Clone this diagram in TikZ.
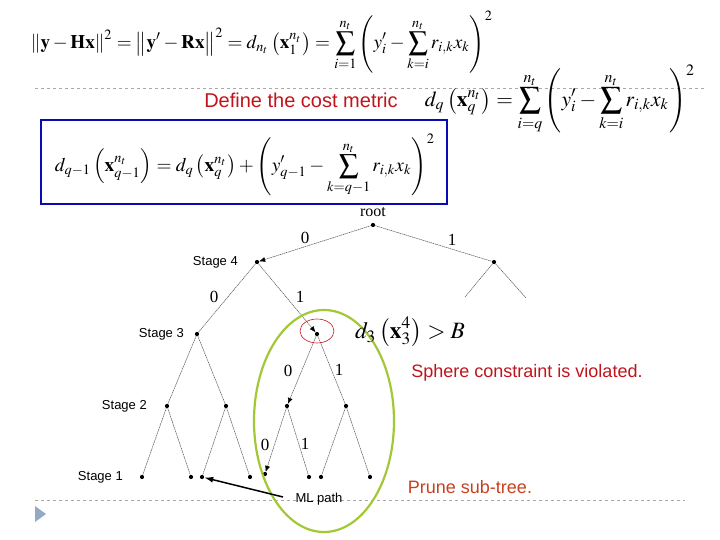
\documentclass[tikz,border=0pt]{standalone}
\usepackage{mathptmx}
\usepackage{fontspec}
\setmainfont{Liberation Serif}
\setsansfont{Liberation Sans}
\usepackage{graphicx}
\usetikzlibrary{arrows.meta,positioning,shapes.geometric}
\definecolor{alertred}{HTML}{C0141C}
\definecolor{prunered}{HTML}{C8401E}
\definecolor{boxblue}{HTML}{0A0AB4}
\definecolor{zonegreen}{HTML}{A2C836}
\definecolor{sepgrey}{HTML}{A8A8A8}
\definecolor{bulletblue}{HTML}{94A9C4}
\definecolor{branchgrey}{HTML}{505050}
\newcommand{\fitw}[2]{\resizebox{#1}{!}{$\displaystyle #2$}}
\tikzset{
  treedot/.style={circle,fill=black,inner sep=0pt,minimum size=4.2pt},
  branch/.style={draw=branchgrey,line width=0.5pt,dash pattern=on 1.4pt off 0.6pt},
  searchbranch/.style={branch,-{Latex[length=6pt,width=5pt,black]}},
  stagelabel/.style={font=\sffamily\fontsize{13}{15}\selectfont,anchor=east,inner sep=0pt},
  bitlabel/.style={font=\fontsize{17}{19}\selectfont,inner sep=0pt},
  redtext/.style={font=\sffamily\fontsize{18}{21}\selectfont,text=alertred,inner sep=0pt},
  eqn/.style={inner sep=0pt},
  costbox/.style={draw=boxblue,line width=2.6pt,minimum width=406pt,minimum height=84pt,inner sep=0pt},
  mlarrow/.style={-{Latex[length=9pt,width=6pt]},line width=1.5pt},
  separator/.style={draw=sepgrey,dashed,line width=0.6pt}
}

\begin{document}
\begin{tikzpicture}[x=1pt,y=-1pt]
  \useasboundingbox (0,0) rectangle (720,540);

  % separators and bullet
  \draw[separator] (35,88) -- (705,88);
  \draw[separator] (35,500) -- (685,500);
  \fill[bulletblue] (35,506) -- (46,514) -- (35,522) -- cycle;

  % cost metric
  \node[eqn] (fulleq) at (262,42) {\fitw{462pt}{\left\|\mathbf{y}-\mathbf{H}\mathbf{x}\right\|^2=\left\|\mathbf{y}'-\mathbf{R}\mathbf{x}\right\|^2=d_{n_t}\left(\mathbf{x}_1^{n_t}\right)=\sum_{i=1}^{n_t}\left(y_i'-\sum_{k=i}^{n_t}r_{i,k}x_k\right)^2}};
  \node[redtext,font=\sffamily\fontsize{20}{23}\selectfont] (define) at (301,100) {Define the cost metric};
  \node[eqn] (parteq) at (560,99) {\fitw{270pt}{d_q\left(\mathbf{x}_q^{n_t}\right)=\sum_{i=q}^{n_t}\left(y_i'-\sum_{k=i}^{n_t}r_{i,k}x_k\right)^2}};
  \node[costbox] (box) at (244,162) {};
  \node[eqn] (receq) at (245,165) {\fitw{380pt}{d_{q-1}\left(\mathbf{x}_{q-1}^{n_t}\right)=d_q\left(\mathbf{x}_q^{n_t}\right)+\left(y_{q-1}'-\sum_{k=q-1}^{n_t}r_{i,k}x_k\right)^2}};

  % tree nodes
  \node[treedot] (root) at (373,225) {};
  \node[treedot] (s4a) at (257,262) {};
  \node[treedot] (s4b) at (494,262) {};
  \node[treedot] (s3a) at (197,334) {};
  \node[treedot] (s3b) at (317,334) {};
  \node[treedot] (s2a) at (167,406) {};
  \node[treedot] (s2b) at (226,406) {};
  \node[treedot] (s2c) at (287,406) {};
  \node[treedot] (s2d) at (346,406) {};
  \node[treedot] (s1a) at (142,477) {};
  \node[treedot] (s1b) at (191,477) {};
  \node[treedot] (s1c) at (202,477) {};
  \node[treedot] (s1d) at (250,477) {};
  \node[treedot] (s1e) at (265,474) {};
  \node[treedot] (s1f) at (309,477) {};
  \node[treedot] (s1g) at (321,477) {};
  \node[treedot] (s1h) at (370,477) {};
  \coordinate (stubl) at (465,297);
  \coordinate (stubr) at (526,298);

  % branches
  \draw[searchbranch] (root) -- (s4a);
  \draw[branch] (root) -- (s4b);
  \draw[branch] (s4b) -- (stubl);
  \draw[branch] (s4b) -- (stubr);
  \draw[branch] (s4a) -- (s3a);
  \draw[searchbranch] (s4a) -- (s3b);
  \draw[branch] (s3a) -- (s2a);
  \draw[branch] (s3a) -- (s2b);
  \draw[searchbranch] (s3b) -- (s2c);
  \draw[branch] (s3b) -- (s2d);
  \draw[branch] (s2a) -- (s1a);
  \draw[branch] (s2a) -- (s1b);
  \draw[branch] (s2b) -- (s1c);
  \draw[branch] (s2b) -- (s1d);
  \draw[searchbranch] (s2c) -- (s1e);
  \draw[branch] (s2c) -- (s1f);
  \draw[branch] (s2d) -- (s1g);
  \draw[branch] (s2d) -- (s1h);

  % labels
  \node[font=\fontsize{16}{18}\selectfont,inner sep=0pt] (rootlbl) at (373,212) {root};
  \node[bitlabel] at (305,238) {0};
  \node[bitlabel] at (452,240) {1};
  \node[bitlabel] at (214,297) {0};
  \node[bitlabel] at (300,297) {1};
  \node[bitlabel] at (288,371) {0};
  \node[bitlabel] at (339,370) {1};
  \node[bitlabel] at (265,445) {0};
  \node[bitlabel] at (305,444) {1};
  \node[stagelabel] (st4) at (238,262) {Stage 4};
  \node[stagelabel] (st3) at (184,334) {Stage 3};
  \node[stagelabel] (st2) at (147,406) {Stage 2};
  \node[stagelabel] (st1) at (123,477) {Stage 1};

  % pruning
  \node[draw=alertred,line width=0.6pt,ellipse,minimum width=34pt,minimum height=24pt] (violnode) at (317,331) {};
  \node[draw=zonegreen,line width=2.2pt,ellipse,minimum width=140pt,minimum height=222pt] (prunezone) at (324,421) {};
  \node[eqn] (boundeq) at (410,332) {\fitw{110pt}{d_3\left(\mathbf{x}_3^4\right)>B}};
  \node[redtext] (violated) at (527,373) {Sphere constraint is violated.};
  \node[redtext,text=prunered] (prune) at (470,487) {Prune sub-tree.};
  \node[font=\sffamily\fontsize{13}{15}\selectfont,inner sep=0pt] (mlpath) at (319,499) {ML path};
  \coordinate (mltail) at (283,497);
  \draw[mlarrow] (mltail) -- (s1c);
\end{tikzpicture}
\end{document}
